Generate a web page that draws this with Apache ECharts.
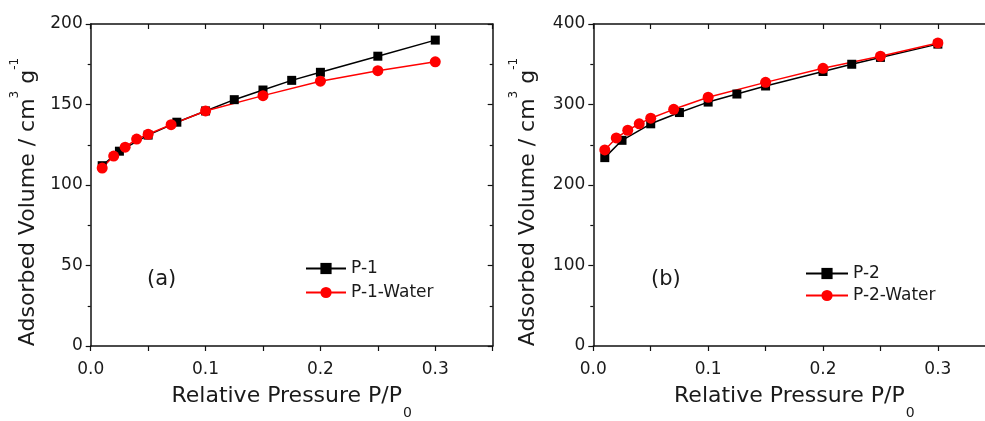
<!DOCTYPE html>
<html>
<head>
<meta charset="utf-8">
<script src="https://cdn.jsdelivr.net/npm/echarts@6/dist/echarts.min.js"></script>
<style>
html,body{margin:0;padding:0;background:#fff;}
#chart{width:985px;height:421px;}
</style>
</head>
<body>
<div id="chart"></div>
<script>
// ---- data ----
var p1X  = [0.01, 0.025, 0.05, 0.075, 0.1, 0.125, 0.15, 0.175, 0.2, 0.25, 0.3];
var p1Y  = [112, 121, 131, 139, 146, 153, 159, 165, 170, 180, 190];
var p1wX = [0.01, 0.02, 0.03, 0.04, 0.05, 0.07, 0.1, 0.15, 0.2, 0.25, 0.3];
var p1wY = [110.5, 118, 123.5, 128.5, 131.5, 137.5, 146, 155.5, 164.5, 171, 176.5];
var p2X  = [0.01, 0.025, 0.05, 0.075, 0.1, 0.125, 0.15, 0.2, 0.225, 0.25, 0.3];
var p2Y  = [234, 255.5, 276, 290, 303, 313, 323, 341, 350, 358.5, 375];
var p2wX = [0.01, 0.02, 0.03, 0.04, 0.05, 0.07, 0.1, 0.15, 0.2, 0.25, 0.3];
var p2wY = [243.5, 258.5, 268, 276, 283, 294, 309, 327.5, 345, 360, 376.5];
var seriesNames = ['P-1', 'P-1-Water', 'P-2', 'P-2-Water'];
var panelLabels = ['(a)', '(b)'];
var xTitle = 'Relative Pressure P/P';
var yTitle = 'Adsorbed Volume / cm';
var yMax = [200, 400];
var yInterval = [50, 100];

function zip(xs, ys) { return xs.map(function (x, i) { return [x, ys[i]]; }); }

var FONT = '"DejaVu Sans", "Liberation Sans", Arial, sans-serif';
var TXT = '#1a1a1a';

var grids = [
  { left: 90.7, top: 24, width: 402, height: 322, outerBoundsMode: 'none', containLabel: false },
  { left: 593.3, top: 24, width: 402, height: 322, outerBoundsMode: 'none', containLabel: false }
];

var xAxes = [], yAxes = [];
[0, 1].forEach(function (g) {
  xAxes.push({
    type: 'value', gridIndex: g, position: 'bottom',
    min: 0, max: 0.35, interval: 0.05,
    name: '{m|' + xTitle + '}{s|0}',
    nameLocation: 'middle',
    nameGap: 39,
    nameTextStyle: {
      rich: {
        m: { fontFamily: FONT, fontSize: 22, lineHeight: 24, color: TXT, verticalAlign: 'top' },
        s: { fontFamily: FONT, fontSize: 14, lineHeight: 14, color: TXT, padding: [21, 0, 0, 1], verticalAlign: 'top' }
      }
    },
    axisLine: { show: true, onZero: false, lineStyle: { color: '#111', width: 1.5 } },
    axisTick: { show: true, inside: false, length: 5, lineStyle: { color: '#111', width: 1.2 } },
    splitLine: { show: false },
    axisLabel: {
      margin: 15, fontFamily: FONT, fontSize: 17, color: TXT,
      formatter: function (v) {
        var t = v * 10;
        if (Math.abs(t - Math.round(t)) > 1e-6 || v > 0.31) return '';
        return v.toFixed(1);
      }
    }
  });
  xAxes.push({
    type: 'value', gridIndex: g, position: 'top',
    min: 0, max: 0.35, interval: 0.05,
    axisLine: { show: true, onZero: false, lineStyle: { color: '#111', width: 1.5 } },
    axisTick: { show: true, inside: true, length: 5, lineStyle: { color: '#111', width: 1.2 } },
    axisLabel: { show: false }, splitLine: { show: false }
  });
  yAxes.push({
    type: 'value', gridIndex: g, position: 'left',
    min: 0, max: yMax[g], interval: yInterval[g],
    name: '{m|' + yTitle + '}{s|3}{m| g}{e|-1}',
    nameLocation: 'middle',
    nameGap: g === 0 ? 51 : 54,
    nameTextStyle: {
      rich: {
        m: { fontFamily: FONT, fontSize: 22, lineHeight: 22, color: TXT, verticalAlign: 'bottom' },
        s: { fontFamily: FONT, fontSize: 12, lineHeight: 12, color: TXT, padding: [0, 0, 19, 0], verticalAlign: 'bottom' },
        e: { fontFamily: FONT, fontSize: 12, lineHeight: 12, color: TXT, padding: [0, 34, 19, 0], verticalAlign: 'bottom' }
      }
    },
    axisLine: { show: true, onZero: false, lineStyle: { color: '#111', width: 1.5 } },
    axisTick: { show: true, inside: false, length: 5, lineStyle: { color: '#111', width: 1.2 } },
    minorTick: { show: true, splitNumber: 2, length: 3, lineStyle: { color: '#111', width: 1.2 } },
    splitLine: { show: false }, minorSplitLine: { show: false },
    axisLabel: { margin: 8, fontFamily: FONT, fontSize: 17, color: TXT }
  });
  yAxes.push({
    type: 'value', gridIndex: g, position: 'right', show: g === 0,
    min: 0, max: yMax[g], interval: yInterval[g],
    axisLine: { show: true, onZero: false, lineStyle: { color: '#111', width: 1.5 } },
    axisTick: { show: true, inside: true, length: 5, lineStyle: { color: '#111', width: 1.2 } },
    minorTick: { show: true, splitNumber: 2, length: 3, lineStyle: { color: '#111', width: 1.2 } },
    splitLine: { show: false }, minorSplitLine: { show: false },
    axisLabel: { show: false }
  });
});

function mkSeries(name, data, g, color, symbol, size) {
  return {
    name: name, type: 'line', data: data,
    xAxisIndex: g * 2, yAxisIndex: g * 2,
    symbol: symbol, symbolSize: size, showAllSymbol: true,
    lineStyle: { color: color, width: 1.5 },
    itemStyle: { color: color },
    emphasis: { disabled: true },
    animation: false, clip: false
  };
}

var option = {
  backgroundColor: '#fff',
  animation: false,
  grid: grids,
  xAxis: xAxes,
  yAxis: yAxes,
  legend: [
    {
      data: [seriesNames[0], seriesNames[1]], orient: 'vertical',
      left: 305, top: 260, padding: 0, itemGap: 7, itemWidth: 40, itemHeight: 14,
      textStyle: { fontFamily: FONT, fontSize: 17, color: TXT }
    },
    {
      data: [seriesNames[2], seriesNames[3]], orient: 'vertical',
      left: 805, top: 265, padding: 0, itemGap: 5, itemWidth: 42, itemHeight: 14,
      textStyle: { fontFamily: FONT, fontSize: 17, color: TXT }
    }
  ],
  graphic: [
    { type: 'text', left: 147, top: 269, style: { text: panelLabels[0], font: '21px ' + FONT, fill: TXT } },
    { type: 'text', left: 651, top: 269, style: { text: panelLabels[1], font: '21px ' + FONT, fill: TXT } }
  ],
  series: [
    mkSeries(seriesNames[0], zip(p1X, p1Y), 0, '#000000', 'rect', 9),
    mkSeries(seriesNames[1], zip(p1wX, p1wY), 0, '#ff0000', 'circle', 11),
    mkSeries(seriesNames[2], zip(p2X, p2Y), 1, '#000000', 'rect', 9),
    mkSeries(seriesNames[3], zip(p2wX, p2wY), 1, '#ff0000', 'circle', 11)
  ]
};

var chart = echarts.init(document.getElementById('chart'), null, { renderer: 'canvas' });
chart.setOption(option);
</script>
</body>
</html>
